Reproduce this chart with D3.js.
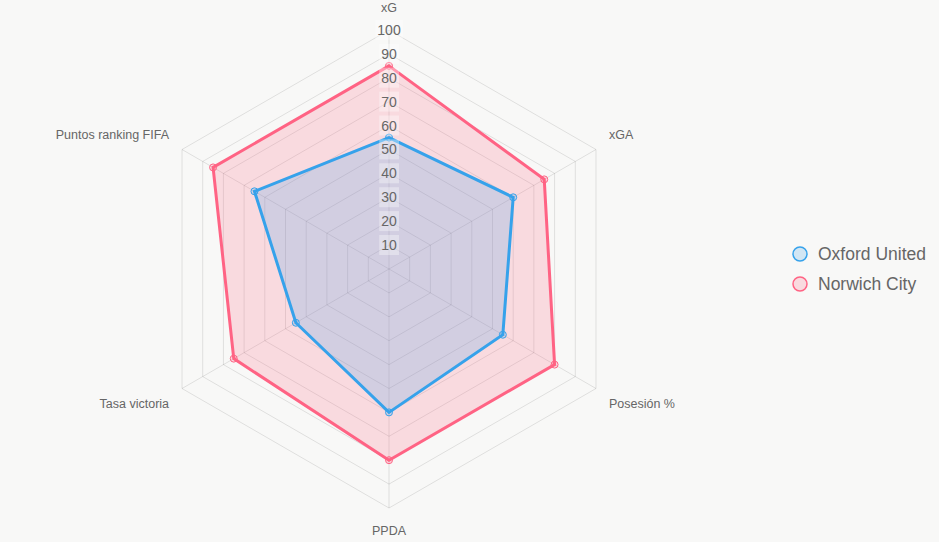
<!DOCTYPE html>
<html>
<head>
<meta charset="utf-8">
<script src="https://cdn.jsdelivr.net/npm/d3@7"></script>
<style>
  html, body { margin: 0; padding: 0; background: #f8f8f7; }
  #chart { width: 939px; height: 542px; }
  text { font-family: "Liberation Sans", Arial, Helvetica, sans-serif; }
</style>
</head>
<body>
<div id="chart"></div>
<script>
(function () {

    // axes of the radar, clockwise from the top
    const labels = ["xG", "xGA", "Posesión %", "PPDA", "Tasa victoria", "Puntos ranking FIFA"];

    const oxford = [55, 60, 55, 60, 45, 65];
    const norwich = [85, 75, 80, 80, 75, 85];

    const tickValues = [10, 20, 30, 40, 50, 60, 70, 80, 90, 100];

    const series = [
        { name: "Oxford United", values: oxford, color: "rgb(54,162,235)", fill: "rgba(54,162,235,0.2)" },
        { name: "Norwich City", values: norwich, color: "rgb(255,99,132)", fill: "rgba(255,99,132,0.2)" }
    ];

    const width = 939, height = 542;
    const cx = 389, cy = 269;
    const radius = 239;

    const svg = d3.select("#chart")
        .append("svg")
        .attr("width", width)
        .attr("height", height);

    const g = svg.append("g")
        .attr("transform", `translate(${cx},${cy})`);

    const r = d3.scaleLinear().domain([0, 100]).range([0, radius]);
    const angle = d3.scalePoint()
        .domain(labels)
        .range([0, 2 * Math.PI * (labels.length - 1) / labels.length]);

    const pos = (label, v) => {
        const a = angle(label) - Math.PI / 2;
        return [Math.cos(a) * r(v), Math.sin(a) * r(v)];
    };

    // grid rings
    g.selectAll("polygon.ring")
        .data(tickValues)
        .enter()
        .append("polygon")
        .attr("class", "ring")
        .attr("points", t => labels.map(l => pos(l, t).join(",")).join(" "))
        .attr("fill", "none")
        .attr("stroke", "rgba(0,0,0,0.1)")
        .attr("stroke-width", 1);

    // angle lines
    g.selectAll("line.spoke")
        .data(labels)
        .enter()
        .append("line")
        .attr("class", "spoke")
        .attr("x1", 0).attr("y1", 0)
        .attr("x2", l => pos(l, 100)[0])
        .attr("y2", l => pos(l, 100)[1])
        .attr("stroke", "rgba(0,0,0,0.1)")
        .attr("stroke-width", 1);

    // point labels around the outside
    const labelDist = 100 + 15 / radius * 100;
    g.selectAll("text.plabel")
        .data(labels)
        .enter()
        .append("text")
        .attr("class", "plabel")
        .attr("x", l => pos(l, labelDist)[0])
        .attr("y", l => pos(l, labelDist)[1])
        .attr("text-anchor", (l, i) => i === 0 || i === 3 ? "middle" : (i < 3 ? "start" : "end"))
        .attr("dy", (l, i) => (i === 0 || i === 1 || i === 5) ? "-0.25em" : "0.95em")
        .attr("font-size", "12.5px")
        .attr("fill", "#666")
        .text(l => l);

    // datasets, last one drawn first so the first sits on top
    const line = d3.line()
        .x((v, i) => pos(labels[i], v)[0])
        .y((v, i) => pos(labels[i], v)[1])
        .curve(d3.curveLinearClosed);

    const sets = g.selectAll("g.set")
        .data(series.slice().reverse())
        .enter()
        .append("g")
        .attr("class", "set");

    sets.append("path")
        .attr("d", d => line(d.values))
        .attr("fill", d => d.fill)
        .attr("stroke", d => d.color)
        .attr("stroke-width", 3)
        .attr("stroke-linejoin", "miter");

    sets.selectAll("circle")
        .data(d => d.values.map((v, i) => ({ v, i, s: d })))
        .enter()
        .append("circle")
        .attr("cx", d => pos(labels[d.i], d.v)[0])
        .attr("cy", d => pos(labels[d.i], d.v)[1])
        .attr("r", 3.5)
        .attr("fill", d => d.s.fill)
        .attr("stroke", d => d.s.color)
        .attr("stroke-width", 1);

    // tick labels with backdrop
    const ticks = g.selectAll("g.tick")
        .data(tickValues)
        .enter()
        .append("g")
        .attr("class", "tick")
        .attr("transform", t => `translate(0,${-r(t)})`);

    ticks.append("text")
        .attr("text-anchor", "middle")
        .attr("dy", "0.35em")
        .attr("font-size", "14px")
        .attr("fill", "#666")
        .text(t => t)
        .each(function () {
            const b = this.getBBox();
            d3.select(this.parentNode).insert("rect", "text")
                .attr("x", b.x - 2)
                .attr("y", b.y - 2)
                .attr("width", b.width + 4)
                .attr("height", b.height + 4)
                .attr("fill", "rgba(255,255,255,0.35)");
        });

    // legend
    const legend = svg.append("g")
        .attr("transform", "translate(800,254)");

    const items = legend.selectAll("g")
        .data(series)
        .enter()
        .append("g")
        .attr("transform", (d, i) => `translate(0,${i * 30})`);

    items.append("circle")
        .attr("r", 7)
        .attr("fill", d => d.fill)
        .attr("stroke", d => d.color)
        .attr("stroke-width", 1.5);

    items.append("text")
        .attr("x", 18)
        .attr("dy", "0.35em")
        .attr("font-size", "17.5px")
        .attr("fill", "#666")
        .text(d => d.name);

})();
</script>
</body>
</html>
